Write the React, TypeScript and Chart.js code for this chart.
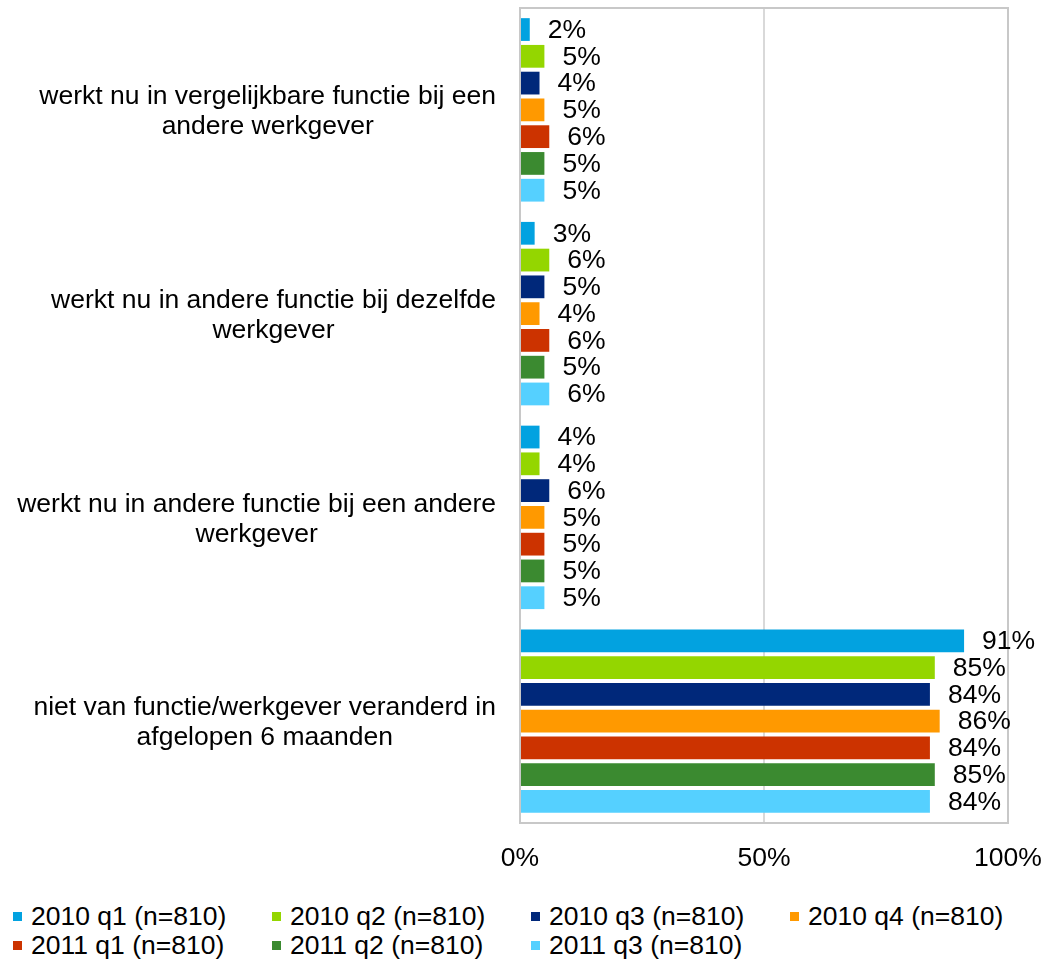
import React, { useEffect, useRef } from "react";
import { Chart, registerables } from "chart.js";

Chart.register(...registerables);

const categories: string[][] = [
  ["werkt nu in vergelijkbare functie bij een", "andere werkgever"],
  ["werkt nu in andere functie bij dezelfde", "werkgever"],
  ["werkt nu in andere functie bij een andere", "werkgever"],
  ["niet van functie/werkgever veranderd in", "afgelopen 6 maanden"],
];

const seriesNames = [
  "2010 q1 (n=810)",
  "2010 q2 (n=810)",
  "2010 q3 (n=810)",
  "2010 q4 (n=810)",
  "2011 q1 (n=810)",
  "2011 q2 (n=810)",
  "2011 q3 (n=810)",
];

const q1_2010 = [2, 3, 4, 91];
const q2_2010 = [5, 6, 4, 85];
const q3_2010 = [4, 5, 6, 84];
const q4_2010 = [5, 4, 5, 86];
const q1_2011 = [6, 6, 5, 84];
const q2_2011 = [5, 5, 5, 85];
const q3_2011 = [5, 6, 5, 84];

const seriesValues = [q1_2010, q2_2010, q3_2010, q4_2010, q1_2011, q2_2011, q3_2011];

const colors = ["#02A2E0", "#94D600", "#00287A", "#FF9900", "#CC3300", "#3B8A30", "#55D0FF"];

const xTicks = [0, 50, 100];

const FONT = '"Liberation Sans", Arial, sans-serif';
const FS = 26.5;

export default function App() {
  const ref = useRef<HTMLCanvasElement | null>(null);

  useEffect(() => {
    if (!ref.current) return;

    const framePlugin = {
      id: "frame",
      beforeDatasetsDraw(chart: any) {
        const { ctx, chartArea: a } = chart;
        ctx.save();
        ctx.strokeStyle = "#C8C8C8";
        ctx.lineWidth = 2;
        ctx.strokeRect(a.left, a.top, a.right - a.left, a.bottom - a.top);
        ctx.restore();
      },
    };

    const labelPlugin = {
      id: "labels",
      afterDatasetsDraw(chart: any) {
        const { ctx } = chart;
        ctx.save();
        ctx.font = `${FS}px ${FONT}`;
        ctx.fillStyle = "#000";
        ctx.textBaseline = "middle";
        ctx.textAlign = "left";
        chart.data.datasets.forEach((ds: any, di: number) => {
          const meta = chart.getDatasetMeta(di);
          meta.data.forEach((el: any, i: number) => {
            ctx.fillText(`${ds.data[i]}%`, el.x + 18, el.y + 1);
          });
        });
        // category labels
        const yScale = chart.scales.y;
        const rightX = chart.chartArea.left - 24;
        const lh = 30;
        categories.forEach((lines, i) => {
          const cy = yScale.getPixelForValue(i) + 2;
          const w = Math.max(...lines.map((l) => ctx.measureText(l).width));
          const cx = rightX - w / 2;
          ctx.textAlign = "center";
          lines.forEach((l, li) => {
            const y = cy - ((lines.length - 1) * lh) / 2 + li * lh;
            ctx.fillText(l, cx, y);
          });
        });
        ctx.restore();
      },
    };

    const chart = new Chart(ref.current, {
      type: "bar",
      data: {
        labels: categories.map((c) => c.join(" ")),
        datasets: seriesNames.map((name, i) => ({
          label: name,
          data: seriesValues[i],
          backgroundColor: colors[i],
          borderWidth: 0,
          categoryPercentage: 0.92,
          barPercentage: 0.85,
        })),
      },
      options: {
        indexAxis: "y",
        responsive: false,
        animation: false,
        layout: { padding: { top: 8, right: 36, left: 0, bottom: 0 } },
        plugins: {
          legend: { display: false },
          tooltip: { enabled: false },
        },
        scales: {
          x: {
            min: 0,
            max: 100,
            afterBuildTicks: (s: any) => {
              s.ticks = xTicks.map((v) => ({ value: v }));
            },
            afterFit: (s: any) => {
              s.height = 57;
              s.paddingRight = 0;
            },
            grid: {
              display: true,
              drawTicks: false,
              color: (c: any) => (c.tick && c.tick.value === 50 ? "#D9D9D9" : "rgba(0,0,0,0)"),
              lineWidth: 2,
            },
            border: { display: false },
            ticks: {
              padding: 20,
              color: "#000",
              font: { family: FONT, size: FS },
              maxRotation: 0,
              callback: (v: any) => `${v}%`,
            },
          },
          y: {
            afterFit: (s: any) => {
              s.width = 520;
            },
            grid: { display: false },
            border: { display: false },
            ticks: { display: false },
          },
        },
      },
      plugins: [framePlugin, labelPlugin],
    } as any);

    return () => chart.destroy();
  }, []);

  return (
    <div style={{ position: "relative", width: 1044, height: 963, fontFamily: FONT }}>
      <style>{`body{margin:0}`}</style>
      <canvas ref={ref} width={1044} height={880} style={{ position: "absolute", left: 0, top: 0 }} />
      {seriesNames.map((name, i) => {
        const row = Math.floor(i / 4);
        const col = i % 4;
        return (
          <div
            key={name}
            style={{
              position: "absolute",
              left: 13 + col * 259,
              top: 916 + row * 29 - 15,
              height: 30,
              display: "flex",
              alignItems: "center",
              whiteSpace: "nowrap",
              fontSize: FS,
              lineHeight: "30px",
              color: "#000",
            }}
          >
            <span style={{ display: "inline-block", width: 9, height: 9, background: colors[i], marginRight: 9 }} />
            <span>{name}</span>
          </div>
        );
      })}
    </div>
  );
}
